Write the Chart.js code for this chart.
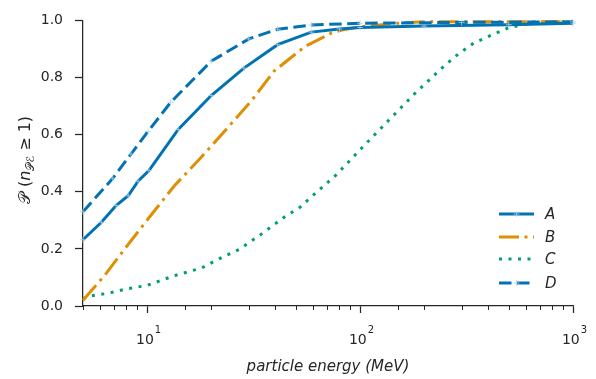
<!DOCTYPE html>
<html>
<head>
<meta charset="utf-8">
<script src="https://cdn.jsdelivr.net/npm/chart.js@4"></script>
<style>
  html, body { margin: 0; padding: 0; background: #fff; }
  canvas { display: block; }
</style>
</head>
<body>
<canvas id="chart" width="596" height="379"></canvas>
<script>
// values
const energyA = [5, 6.1, 7.15, 8.15, 9.07, 10.2, 14, 20, 28.5, 41, 59, 80, 100, 200, 500, 1000];
const probA   = [0.232, 0.293, 0.352, 0.386, 0.437, 0.474, 0.618, 0.737, 0.833, 0.915, 0.959, 0.970, 0.975, 0.980, 0.985, 0.990];

const energyB = [5, 6.3, 8, 10.4, 13.4, 18, 23.5, 31, 39.5, 55, 73, 82, 100, 150, 200, 500, 1000];
const probB   = [0.02, 0.106, 0.208, 0.317, 0.42, 0.522, 0.618, 0.72, 0.823, 0.908, 0.955, 0.966, 0.978, 0.99, 0.995, 0.995, 0.995];

const energyC = [5, 5.3, 6.5, 8.15, 10, 13.4, 18, 22, 27, 34, 44, 53, 57, 77, 103, 137, 183, 248, 291, 343, 424, 502, 623, 761, 1000];
const probC   = [0.025, 0.034, 0.044, 0.061, 0.072, 0.106, 0.133, 0.167, 0.198, 0.249, 0.311, 0.349, 0.372, 0.458, 0.557, 0.652, 0.748, 0.84, 0.884, 0.921, 0.952, 0.975, 0.99, 0.995, 0.995];

const energyD = [5, 6.9, 8.4, 10.1, 12.9, 20, 30, 41, 59, 100, 300, 1000];
const probD   = [0.330, 0.447, 0.532, 0.611, 0.713, 0.857, 0.935, 0.969, 0.984, 0.99, 0.993, 0.995];

const seriesNames = ["A", "B", "C", "D"];
const xTickLabels = { 10: ["10", "1"], 100: ["10", "2"], 1000: ["10", "3"] };
const yTickValues = [0, 0.2, 0.4, 0.6, 0.8, 1.0];

const BLUE = "#0173B2", ORANGE = "#DE8F05", GREEN = "#029E73";
const INK = "#262626";
const CROSS = "rgba(175, 208, 232, 0.75)";

const pts = (xs, ys) => xs.map((x, i) => ({ x, y: ys[i] }));
const isDecade = (v) => Math.abs(Math.log10(v) - Math.round(Math.log10(v))) < 1e-9;

const styles = [
  { color: BLUE, dash: [], cross: true },
  { color: ORANGE, dash: [20, 5.5, 3, 5.5], cross: false },
  { color: GREEN, dash: [3, 6.5], cross: false },
  { color: BLUE, dash: [12.5, 5.5], cross: true },
];
const sources = [[energyA, probA], [energyB, probB], [energyC, probC], [energyD, probD]];

const datasets = sources.map(([xs, ys], i) => ({
  label: seriesNames[i],
  data: pts(xs, ys),
  borderColor: styles[i].color,
  borderWidth: 3,
  borderDash: styles[i].dash,
  borderCapStyle: "butt",
  tension: 0,
  fill: false,
  clip: 6,
  pointStyle: "cross",
  pointRadius: styles[i].cross ? 3 : 0,
  pointBorderWidth: 1,
  pointBorderColor: CROSS,
  pointHoverRadius: 0,
}));

// A and D drawn on top of B and C
datasets[0].order = 1;
datasets[3].order = 0;
datasets[1].order = 2;
datasets[2].order = 3;

const decorations = {
  id: "decorations",
  afterDraw(chart) {
    const { ctx, chartArea, scales } = chart;
    const xs = scales.x;
    ctx.save();

    // minor x ticks
    ctx.strokeStyle = INK;
    ctx.lineWidth = 1;
    xs.ticks.forEach((t) => {
      if (isDecade(t.value)) return;
      const px = Math.round(xs.getPixelForValue(t.value)) + 0.5;
      ctx.beginPath();
      ctx.moveTo(px, chartArea.bottom);
      ctx.lineTo(px, chartArea.bottom + 4);
      ctx.stroke();
    });

    // x tick labels with superscript exponent
    ctx.fillStyle = INK;
    ctx.textBaseline = "alphabetic";
    Object.keys(xTickLabels).forEach((k) => {
      const [base, exp] = xTickLabels[k];
      const px = xs.getPixelForValue(Number(k));
      ctx.font = "14px 'DejaVu Sans'";
      const wb = ctx.measureText(base).width;
      ctx.font = "10px 'DejaVu Sans'";
      const we = ctx.measureText(exp).width;
      const x0 = px - (wb + we) / 2 + 1;
      ctx.font = "14px 'DejaVu Sans'";
      ctx.textAlign = "left";
      ctx.fillText(base, x0, 344);
      ctx.font = "10px 'DejaVu Sans'";
      ctx.fillText(exp, x0 + wb + 1, 333);
    });

    // x axis title
    ctx.font = "italic 15px 'DejaVu Sans'";
    ctx.textAlign = "center";
    ctx.fillText("particle energy (MeV)", (chartArea.left + chartArea.right) / 2, 371);

    // y axis title, rotated, with subscript
    ctx.translate(25, 160);
    ctx.rotate(-Math.PI / 2);
    const parts = [
      { t: "\uD835\uDCAB (", f: "16px 'DejaVu Sans'", dy: 0 },
      { t: "n", f: "italic 16px 'DejaVu Sans'", dy: 0 },
      { t: "\uD835\uDCAB\u2130", f: "11px 'DejaVu Sans'", dy: 4 },
      { t: " \u2265 1)", f: "16px 'DejaVu Sans'", dy: 0 },
    ];
    let total = 0;
    parts.forEach((p) => { ctx.font = p.f; p.w = ctx.measureText(p.t).width; total += p.w; });
    let cx = -total / 2;
    ctx.textAlign = "left";
    parts.forEach((p) => {
      ctx.font = p.f;
      ctx.fillText(p.t, cx, 5 + p.dy);
      cx += p.w;
    });
    ctx.restore();

    // legend
    ctx.save();
    const lx0 = 499, lx1 = 534, rowY = [214, 237, 259, 283];
    seriesNames.forEach((name, i) => {
      const s = styles[i];
      const y = rowY[i];
      ctx.strokeStyle = s.color;
      ctx.lineWidth = 3;
      ctx.lineCap = "butt";
      ctx.setLineDash(s.dash);
      ctx.beginPath();
      ctx.moveTo(lx0, y);
      ctx.lineTo(lx1, y);
      ctx.stroke();
      ctx.setLineDash([]);
      if (s.cross) {
        const mx = (lx0 + lx1) / 2;
        ctx.strokeStyle = CROSS;
        ctx.lineWidth = 1;
        ctx.beginPath();
        ctx.moveTo(mx - 3, y); ctx.lineTo(mx + 3, y);
        ctx.moveTo(mx, y - 3); ctx.lineTo(mx, y + 3);
        ctx.stroke();
      }
      ctx.fillStyle = INK;
      ctx.font = "italic 15px 'DejaVu Sans'";
      ctx.textAlign = "left";
      ctx.textBaseline = "middle";
      ctx.fillText(name, 545, y + 1);
    });
    ctx.restore();
  },
};

new Chart(document.getElementById("chart"), {
  type: "line",
  data: { datasets },
  options: {
    responsive: false,
    animation: false,
    devicePixelRatio: 1,
    layout: { padding: { left: 0, right: 23, top: 12, bottom: 0 } },
    plugins: { legend: { display: false }, tooltip: { enabled: false } },
    scales: {
      x: {
        type: "logarithmic",
        min: 5,
        max: 1000,
        afterFit: (scale) => { scale.height = 73; },
        border: { display: true, color: INK, width: 1.25 },
        grid: {
          drawOnChartArea: false,
          drawTicks: true,
          tickLength: 7,
          tickWidth: 1.25,
          tickColor: (c) => (c.tick && isDecade(c.tick.value) ? INK : "rgba(0,0,0,0)"),
        },
        ticks: {
          autoSkip: false,
          maxRotation: 0,
          padding: 8,
          color: INK,
          font: { family: "'DejaVu Sans'", size: 14 },
          callback: () => "",
        },
      },
      y: {
        min: 0,
        max: 1,
        afterFit: (scale) => { scale.width = 83; },
        afterBuildTicks: (scale) => { scale.ticks = yTickValues.map((v) => ({ value: v })); },
        border: { display: true, color: INK, width: 1.25 },
        grid: {
          drawOnChartArea: false,
          drawTicks: true,
          tickLength: 8,
          tickWidth: 1.25,
          tickColor: INK,
        },
        ticks: {
          padding: 12,
          color: INK,
          font: { family: "'DejaVu Sans'", size: 14 },
          callback: (v) => v.toFixed(1),
        },
      },
    },
  },
  plugins: [decorations],
});
</script>
</body>
</html>
